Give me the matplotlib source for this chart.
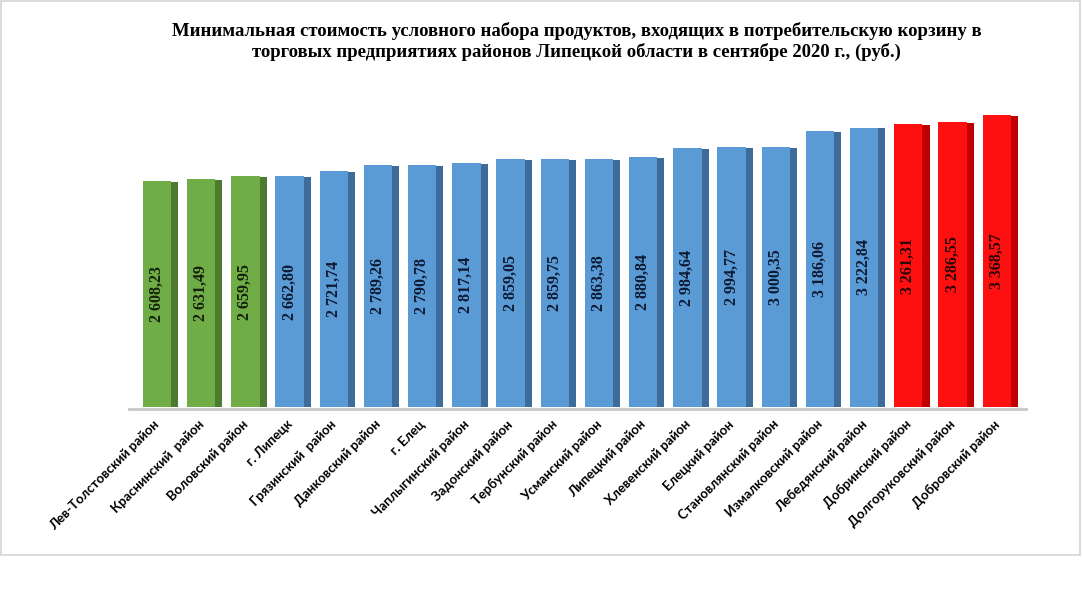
import matplotlib.pyplot as plt
from matplotlib.patches import Rectangle

# Data
districts = [
    "Лев-Толстовский район", "Краснинский  район", "Воловский район", "г. Липецк",
    "Грязинский  район", "Данковский район", "г. Елец", "Чаплыгинский район",
    "Задонский район", "Тербунский район", "Усманский район", "Липецкий район",
    "Хлевенский район", "Елецкий район", "Становлянский район", "Измалковский район",
    "Лебедянский район", "Добринский район", "Долгоруковский район", "Добровский район",
]
prices = [2608.23, 2631.49, 2659.95, 2662.80, 2721.74, 2789.26, 2790.78, 2817.14,
          2859.05, 2859.75, 2863.38, 2880.84, 2984.64, 2994.77, 3000.35, 3186.06,
          3222.84, 3261.31, 3286.55, 3368.57]
groups = ["low"] * 3 + ["mid"] * 14 + ["high"] * 3

front = {"low": "#70ad47", "mid": "#5b9bd5", "high": "#ff1010"}
side = {"low": "#4c7a30", "mid": "#3d6c9a", "high": "#c00000"}
txt = {"low": "#14210c", "mid": "#0d1a33", "high": "#2a0505"}

def fmt(v):
    s = f"{v:,.2f}"
    return s.replace(",", " ").replace(".", ",")

fig = plt.figure(figsize=(10.82, 6.0), dpi=100)
fig.patches.append(Rectangle((0.001, 0.075), 0.997, 0.923, transform=fig.transFigure,
                             fill=False, edgecolor="#d4d4d4", lw=1.2))

ymax = 3400
ax = fig.add_axes([0.1275, 193 / 600, 0.817, 0.0867 * ymax / 600])
x = list(range(len(prices)))

ax.bar([i - 0.07 for i in x], prices, width=0.64,
       color=[front[g] for g in groups], zorder=3)
ax.bar([i + 0.33 for i in x], [p - 10 for p in prices], width=0.16,
       color=[side[g] for g in groups], zorder=2)

for i, (p, g) in enumerate(zip(prices, groups)):
    ax.text(i - 0.07, p / 2, fmt(p), rotation=90, ha="center", va="center",
            fontsize=11.5, fontweight="bold", family="Liberation Serif",
            color=txt[g], zorder=4)

# floor
ax.axhline(-20, xmin=-0.01, xmax=1.005, color="#c8c8c8", lw=2, zorder=1, clip_on=False)

ax.set_xlim(-0.5, 19.5)
ax.set_ylim(0, ymax)
ax.set_xticks([i - 0.15 for i in x])
ax.set_xticklabels(districts, rotation=45, ha="right", va="top",
                   rotation_mode="anchor", fontsize=9.5, fontweight="bold", family="Lato")
ax.tick_params(axis="x", length=0, pad=8)
ax.set_yticks([])
for s in ax.spines.values():
    s.set_visible(False)

fig.text(0.533, 0.931,
         "Минимальная стоимость условного набора продуктов, входящих в потребительскую корзину в\n"
         "торговых предприятиях районов Липецкой области в сентябре 2020 г., (руб.)",
         ha="center", va="center", fontsize=13.5, fontweight="bold",
         family="Liberation Serif", linespacing=1.2)

fig.savefig("out.png", dpi=100)
